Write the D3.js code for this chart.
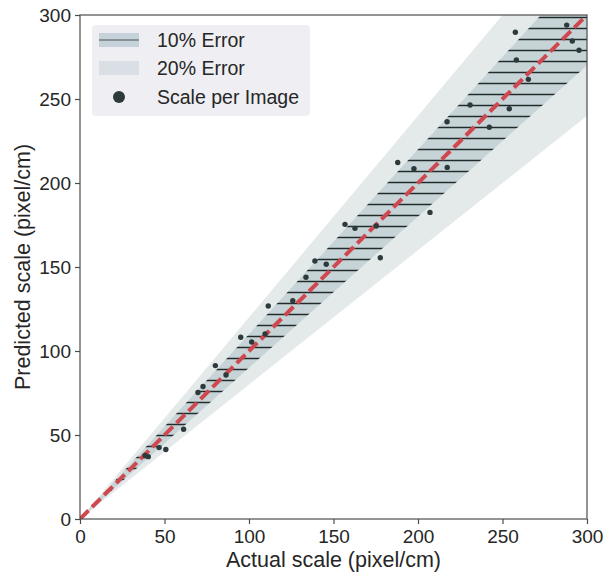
<!DOCTYPE html>
<html>
<head>
<meta charset="utf-8">
<script src="https://cdn.jsdelivr.net/npm/d3@7"></script>
<style>
  body { margin: 0; background: #fff; }
  text { font-family: "Liberation Sans", Arial, sans-serif; fill: #262626; }
</style>
</head>
<body>
<div id="chart"></div>
<script>
// measured scale per image (pixel/cm)
var actual    = [38.5, 40.4, 46.8, 50.8, 61.3, 69.8, 72.8, 80.1, 86.4, 95.1, 101.6, 109.5, 111.4, 125.9, 133.7, 139.0, 145.7, 156.8, 162.7, 175.3, 177.7, 188.0, 197.6, 207.1, 217.3, 217.2, 230.8, 242.2, 254.0, 257.6, 258.2, 265.3, 288.0, 291.3, 295.3];
var predicted = [37.8, 37.1, 42.5, 41.4, 53.4, 75.3, 78.9, 91.3, 85.7, 108.2, 105.4, 110.1, 126.8, 129.9, 143.9, 153.6, 151.6, 175.4, 173.0, 174.4, 155.5, 212.2, 208.5, 182.5, 209.3, 236.5, 246.4, 233.2, 244.2, 289.7, 273.2, 261.7, 294.0, 284.5, 279.0];
var xTicks = [0, 50, 100, 150, 200, 250, 300];
var yTicks = [0, 50, 100, 150, 200, 250, 300];
var errorBands = [0.2, 0.1];
var legendLabels = ["10% Error", "20% Error", "Scale per Image"];

var W = 606, H = 573;
var margin = {top: 15, right: 19, bottom: 54, left: 80};
var w = W - margin.left - margin.right;
var h = H - margin.top - margin.bottom;

var bandFill = {0.2: "#e4e9ea", 0.1: "#c6d4d7"};
var dotColor = "#2d3a3c";

var svg = d3.select("#chart").append("svg")
  .attr("width", W)
  .attr("height", H);

var defs = svg.append("defs");
defs.append("clipPath").attr("id", "plotclip")
  .append("rect").attr("width", w).attr("height", h);

// horizontal hatch, like matplotlib '-'
var pat = defs.append("pattern")
  .attr("id", "hatch")
  .attr("patternUnits", "userSpaceOnUse")
  .attr("x", 0).attr("y", -3)
  .attr("width", 20).attr("height", 11);
pat.append("line")
  .attr("x1", 0).attr("x2", 20)
  .attr("y1", 5.5).attr("y2", 5.5)
  .attr("stroke", "#222a2c")
  .attr("stroke-width", 1.5);

var x = d3.scaleLinear().domain([0, 300]).range([0, w]);
var y = d3.scaleLinear().domain([0, 300]).range([h, 0]);

var g = svg.append("g").attr("transform", "translate(" + margin.left + "," + margin.top + ")");
var plot = g.append("g").attr("clip-path", "url(#plotclip)");

var bandLine = d3.line().x(function(d) { return x(d[0]); }).y(function(d) { return y(d[1]); });

errorBands.forEach(function(e) {
  var pts = [[0, 0], [300, 300 * (1 + e)], [300, 300 * (1 - e)]];
  plot.append("path")
    .attr("d", bandLine(pts) + "Z")
    .attr("fill", bandFill[e]);
  if (e == 0.1) {
    plot.append("path")
      .attr("d", bandLine(pts) + "Z")
      .attr("fill", "url(#hatch)");
  }
});

// y = x reference
plot.append("path")
  .attr("d", bandLine([[0, 0], [300, 300]]))
  .attr("fill", "none")
  .attr("stroke", "#d0484f")
  .attr("stroke-width", 4)
  .attr("stroke-dasharray", "12,5");

plot.selectAll("circle.pt")
  .data(actual)
  .enter()
  .append("circle")
  .attr("class", "pt")
  .attr("cx", function(d) { return x(d); })
  .attr("cy", function(d, i) { return y(predicted[i]); })
  .attr("r", 2.7)
  .attr("fill", dotColor);

// frame
g.append("rect")
  .attr("width", w).attr("height", h)
  .attr("fill", "none")
  .attr("stroke", "#4d4d4d")
  .attr("stroke-width", 1.2);

var xAxis = g.append("g")
  .attr("transform", "translate(0," + h + ")")
  .call(d3.axisBottom(x).tickValues(xTicks).tickSize(5).tickPadding(6));
var yAxis = g.append("g")
  .call(d3.axisLeft(y).tickValues(yTicks).tickSize(5).tickPadding(4));

[xAxis, yAxis].forEach(function(a) {
  a.select(".domain").remove();
  a.selectAll(".tick line").attr("stroke", "#4d4d4d").attr("stroke-width", 1.2);
  a.selectAll(".tick text")
    .attr("font-family", "Liberation Sans, Arial, sans-serif")
    .attr("font-size", 19)
    .attr("fill", "#262626");
});

g.append("text")
  .attr("x", w / 2).attr("y", h + 48)
  .attr("text-anchor", "middle")
  .attr("font-size", 21.5)
  .text("Actual scale (pixel/cm)");

g.append("text")
  .attr("transform", "rotate(-90)")
  .attr("x", -h / 2).attr("y", -50)
  .attr("text-anchor", "middle")
  .attr("font-size", 21.5)
  .text("Predicted scale (pixel/cm)");

// legend
var lg = svg.append("g").attr("transform", "translate(92,25)");
lg.append("rect")
  .attr("width", 218).attr("height", 91)
  .attr("rx", 4)
  .attr("fill", "#eeeef3");

var rowY = [15, 43, 72];
lg.append("rect").attr("x", 7).attr("y", rowY[0] - 7).attr("width", 40).attr("height", 14).attr("fill", "#c5d2d9");
lg.append("line").attr("x1", 7).attr("x2", 47).attr("y1", rowY[0]).attr("y2", rowY[0])
  .attr("stroke", "#6f7a80").attr("stroke-width", 1.6);
lg.append("rect").attr("x", 7).attr("y", rowY[1] - 7).attr("width", 40).attr("height", 14).attr("fill", "#d9dfe4");
lg.append("circle").attr("cx", 27).attr("cy", rowY[2]).attr("r", 6).attr("fill", dotColor);

lg.selectAll("text.lab")
  .data(legendLabels)
  .enter()
  .append("text")
  .attr("class", "lab")
  .attr("x", 65)
  .attr("y", function(d, i) { return rowY[i]; })
  .attr("dy", "0.35em")
  .attr("font-size", 19.5)
  .text(function(d) { return d; });
</script>
</body>
</html>
